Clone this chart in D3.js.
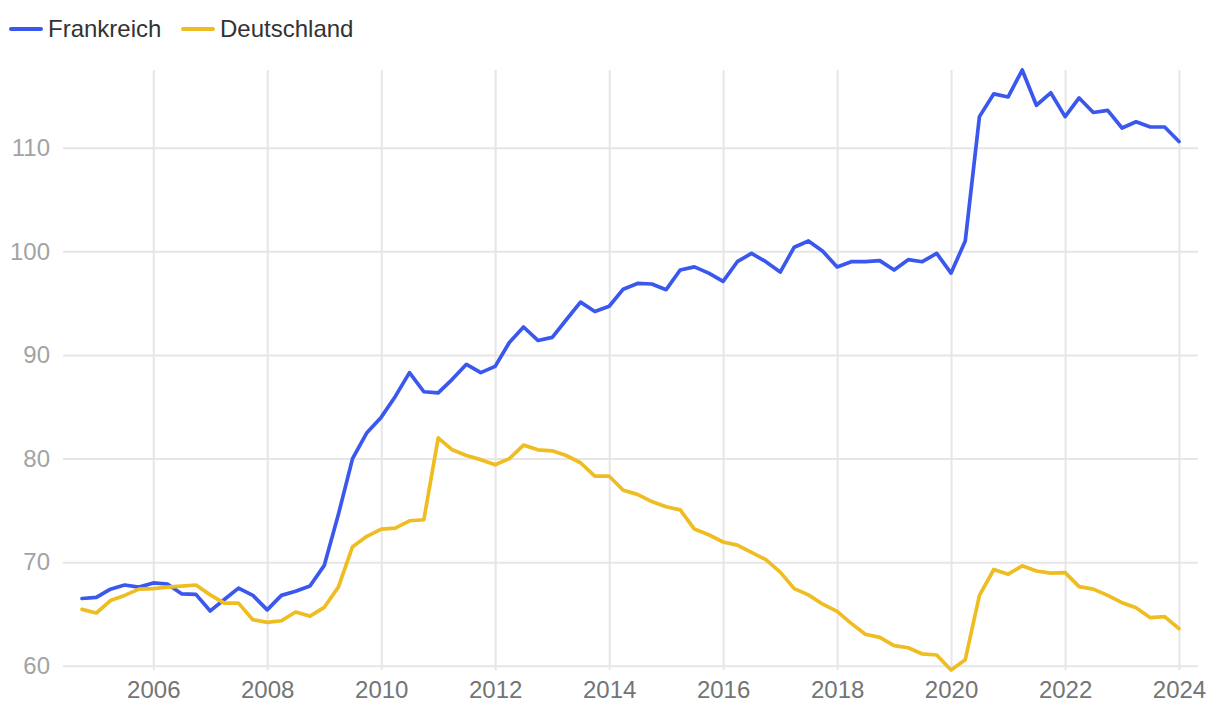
<!DOCTYPE html>
<html>
<head>
<meta charset="utf-8">
<script src="https://cdn.jsdelivr.net/npm/d3@7"></script>
<style>
  html, body { margin: 0; padding: 0; background: #fff; }
  svg { display: block; font-family: "Liberation Sans", Arial, Helvetica, sans-serif; }
</style>
</head>
<body>
<svg id="chart" width="1220" height="716"></svg>
<script>
const quarters = [
  "2004-10","2005-01","2005-04","2005-07","2005-10","2006-01","2006-04","2006-07","2006-10",
  "2007-01","2007-04","2007-07","2007-10","2008-01","2008-04","2008-07","2008-10",
  "2009-01","2009-04","2009-07","2009-10","2010-01","2010-04","2010-07","2010-10",
  "2011-01","2011-04","2011-07","2011-10","2012-01","2012-04","2012-07","2012-10",
  "2013-01","2013-04","2013-07","2013-10","2014-01","2014-04","2014-07","2014-10",
  "2015-01","2015-04","2015-07","2015-10","2016-01","2016-04","2016-07","2016-10",
  "2017-01","2017-04","2017-07","2017-10","2018-01","2018-04","2018-07","2018-10",
  "2019-01","2019-04","2019-07","2019-10","2020-01","2020-04","2020-07","2020-10",
  "2021-01","2021-04","2021-07","2021-10","2022-01","2022-04","2022-07","2022-10",
  "2023-01","2023-04","2023-07","2023-10","2024-01"
];

const frankreich = [
  66.5, 66.6, 67.4, 67.8, 67.6, 68.0, 67.9, 66.95, 66.9,
  65.3, 66.4, 67.5, 66.8, 65.4, 66.8, 67.2, 67.7,
  69.7, 74.6, 80.0, 82.5, 84.0, 86.0, 88.3, 86.45,
  86.35, 87.65, 89.1, 88.3, 88.9, 91.2, 92.7, 91.4,
  91.7, 93.4, 95.1, 94.2, 94.7, 96.35, 96.9, 96.85,
  96.3, 98.2, 98.5, 97.9, 97.1, 99.0, 99.8, 99.0,
  98.0, 100.4, 101.0, 100.0, 98.5, 99.0, 99.0, 99.1,
  98.2, 99.2, 99.0, 99.8, 97.9, 101.0, 113.0, 115.2,
  114.9, 117.5, 114.1, 115.3, 113.0, 114.8, 113.4, 113.6,
  111.9, 112.5, 112.0, 112.0, 110.6
];

const deutschland = [
  65.45, 65.1, 66.3, 66.8, 67.4, 67.45, 67.6, 67.7, 67.8,
  66.85, 66.05, 66.05, 64.45, 64.2, 64.35, 65.2, 64.8,
  65.65, 67.6, 71.5, 72.5, 73.2, 73.3, 74.0, 74.1,
  82.0, 80.85, 80.3, 79.9, 79.4, 80.0, 81.3, 80.85,
  80.75, 80.3, 79.6, 78.3, 78.3, 76.95, 76.55, 75.85,
  75.35, 75.05, 73.2, 72.65, 71.95, 71.65, 70.95, 70.25,
  69.05, 67.45, 66.85, 65.95, 65.25, 64.1, 63.05, 62.75,
  61.95, 61.75, 61.15, 61.05, 59.6, 60.6, 66.8, 69.3,
  68.85, 69.65, 69.15, 68.95, 69.0, 67.65, 67.4, 66.8,
  66.1, 65.6, 64.65, 64.75, 63.6
];

const seriesNames = ["Frankreich", "Deutschland"];
const seriesColors = ["#3a57ee", "#efbd22"];
const yTicks = [60, 70, 80, 90, 100, 110];
const xTickYears = ["2006","2008","2010","2012","2014","2016","2018","2020","2022","2024"];

const parseQ = d3.timeParse("%Y-%m");
const parseY = d3.timeParse("%Y");
const dates = quarters.map(parseQ);
const series = [frankreich, deutschland].map((vals, i) => ({
  name: seriesNames[i], color: seriesColors[i],
  points: vals.map((v, j) => ({ date: dates[j], value: v }))
}));

const svg = d3.select("#chart");
const plot = { left: 82, right: 1179, top: 70, bottom: 670, gridLeft: 63, gridRight: 1198 };

const x = d3.scaleTime().domain(d3.extent(dates)).range([plot.left, plot.right]);
const allVals = frankreich.concat(deutschland);
const y = d3.scaleLinear().domain(d3.extent(allVals)).range([plot.bottom, plot.top]);

// horizontal grid + y labels
const yAxis = d3.axisLeft(y).tickValues(yTicks).tickSize(-(plot.gridRight - plot.gridLeft)).tickPadding(13);
const gy = svg.append("g").attr("transform", `translate(${plot.gridLeft},0)`).call(yAxis);
gy.select(".domain").remove();
gy.selectAll(".tick line").attr("stroke", "#e6e6e6").attr("stroke-width", 2);
gy.selectAll(".tick text").attr("fill", "#a3a3a3").attr("font-size", 24)
  .attr("font-family", "Liberation Sans, Arial, sans-serif");

// vertical grid + x labels
const xAxis = d3.axisBottom(x).tickValues(xTickYears.map(parseY))
  .tickFormat(d3.timeFormat("%Y")).tickSize(-(plot.bottom - plot.top)).tickPadding(11);
const gx = svg.append("g").attr("transform", `translate(0,${plot.bottom})`).call(xAxis);
gx.select(".domain").remove();
gx.selectAll(".tick line").attr("stroke", "#e6e6e6").attr("stroke-width", 2);
gx.selectAll(".tick text").attr("fill", "#747474").attr("font-size", 24)
  .attr("font-family", "Liberation Sans, Arial, sans-serif");

// lines
const line = d3.line().x(d => x(d.date)).y(d => y(d.value));
svg.append("g").selectAll("path").data(series).join("path")
  .attr("d", d => line(d.points))
  .attr("fill", "none")
  .attr("stroke", d => d.color)
  .attr("stroke-width", 3.7)
  .attr("stroke-linejoin", "round")
  .attr("stroke-linecap", "round");

// legend
const legendX = [11, 183];
const lg = svg.append("g").selectAll("g").data(series).join("g")
  .attr("transform", (d, i) => `translate(${legendX[i]},29)`);
lg.append("line").attr("x1", 0).attr("x2", 30).attr("y1", 0).attr("y2", 0)
  .attr("stroke", d => d.color).attr("stroke-width", 4).attr("stroke-linecap", "round");
lg.append("text").attr("x", 37).attr("y", 0).attr("dy", "0.35em")
  .attr("font-size", 24).attr("fill", "#333").text(d => d.name);
</script>
</body>
</html>
